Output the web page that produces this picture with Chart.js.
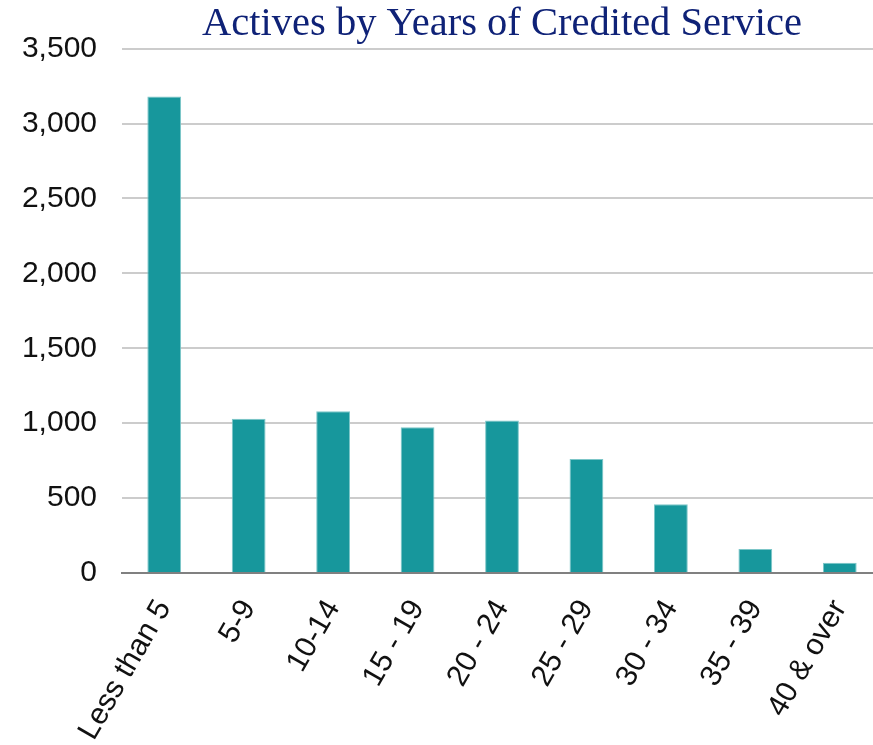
<!DOCTYPE html>
<html lang="en">
<head>
    <meta charset="UTF-8">
    <title>Actives by Years of Credited Service</title>
    <script src="https://cdn.jsdelivr.net/npm/chart.js"></script>
    <style>
        html, body { margin: 0; padding: 0; background: #ffffff; overflow: hidden; }
        #serviceChart { display: block; }
    </style>
</head>
<body>
    <canvas id="serviceChart" width="882" height="745"></canvas>

<script>
    // Service bands and active member counts
    const serviceBands = ['Less than 5', '5-9', '10-14', '15 - 19', '20 - 24', '25 - 29', '30 - 34', '35 - 39', '40 & over'];
    const activeCounts = [3180, 1030, 1080, 973, 1017, 761, 459, 160, 69];
    const yTicks = [0, 500, 1000, 1500, 2000, 2500, 3000, 3500];

    const ctx = document.getElementById('serviceChart').getContext('2d');
    const serviceChart = new Chart(ctx, {
        type: 'bar',
        data: {
            labels: serviceBands,
            datasets: [{
                label: 'Actives',
                data: activeCounts,
                backgroundColor: '#17979c',
                borderColor: '#7cc6c8',
                borderWidth: 1,
                barPercentage: 0.4,
                categoryPercentage: 1.0
            }]
        },
        options: {
            responsive: false,
            animation: false,
            layout: { padding: { left: 0, right: 0, top: 0, bottom: 0 } },
            plugins: {
                legend: { display: false },
                tooltip: { enabled: false },
                title: {
                    display: true,
                    text: 'Actives by Years of Credited Service',
                    fullSize: false,
                    color: '#0f2277',
                    font: { family: '"Liberation Serif", "Times New Roman", serif', size: 40.5, weight: 'normal', lineHeight: 1.2 },
                    padding: { top: 0, bottom: 0 }
                }
            },
            scales: {
                x: {
                    grid: { display: false, drawTicks: false },
                    border: { display: true, color: '#808080', width: 2 },
                    ticks: {
                        color: '#111111',
                        font: { family: '"Liberation Sans", Arial, sans-serif', size: 30 },
                        minRotation: 60,
                        maxRotation: 60,
                        padding: 21
                    },
                    afterFit: function(scale) {
                        scale.height = 172;
                        // keep the plot running out to the right edge
                        scale.paddingLeft = 0;
                        scale.paddingRight = 0;
                    }
                },
                y: {
                    min: 0,
                    max: 3500,
                    afterBuildTicks: function(scale) {
                        scale.ticks = yTicks.map(v => ({ value: v }));
                    },
                    grid: { color: '#cccccc', lineWidth: 2, drawTicks: false },
                    border: { display: false },
                    ticks: {
                        color: '#111111',
                        font: { family: '"Liberation Sans", Arial, sans-serif', size: 30 },
                        padding: 25,
                        callback: function(value) { return value.toLocaleString('en-US'); }
                    },
                    afterFit: function(scale) { scale.width = 122; }
                }
            }
        }
    });
</script>

</body>
</html>
